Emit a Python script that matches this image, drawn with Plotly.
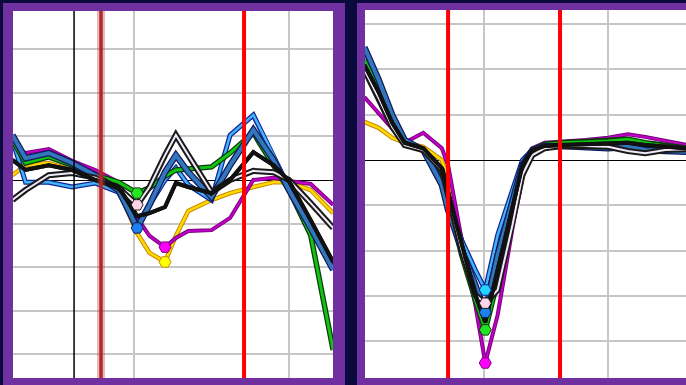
import plotly.graph_objects as go

# ---------------- data: left panel ----------------
x_left = [2.15, 3.0, 4.5, 6.0, 7.5, 9.0, 10.2, 11.0, 12.0, 12.7, 13.5, 15.0, 16.2, 17.7, 19.0, 20.0, 21.4, 22.85]

left_magenta = [0.73, 0.62, 0.71, 0.44, 0.23, -0.05, -0.87, -1.28, -1.54, -1.33, -1.17, -1.15, -0.87, 0.00, 0.05, -0.02, -0.09, -0.57]
left_yellow = [0.11, 0.34, 0.39, 0.23, 0.07, -0.23, -1.22, -1.67, -1.88, -1.28, -0.71, -0.46, -0.30, -0.16, -0.05, -0.05, -0.23, -0.76]
left_sky = [0.92, -0.05, -0.05, -0.16, -0.07, -0.28, -1.03, -0.57, 0.00, 0.28, -0.11, -0.46, 1.03, 1.49, 0.57, -0.18, -1.03, -1.95]
left_green = [0.92, 0.39, 0.53, 0.34, 0.11, -0.05, -0.30, -0.18, 0.09, 0.23, 0.25, 0.30, 0.62, 1.08, 0.34, -0.23, -1.26, -3.90]
left_blue = [1.03, 0.50, 0.62, 0.39, 0.11, -0.23, -1.10, -0.57, 0.18, 0.57, 0.18, -0.39, 0.34, 1.15, 0.46, -0.23, -1.10, -2.06]
left_black = [0.46, 0.23, 0.34, 0.23, 0.00, -0.16, -0.83, -0.76, -0.62, -0.07, -0.16, -0.30, 0.00, 0.64, 0.34, -0.02, -0.92, -1.88]
left_white = [-0.46, -0.23, 0.11, 0.16, 0.05, -0.18, -0.57, -0.16, 0.57, 1.03, 0.57, -0.28, 0.00, 0.21, 0.18, 0.00, -0.53, -1.10]

# ---------------- data: right panel ----------------
x_right = [0.35, 1.5, 2.6, 3.6, 5.1, 6.6, 7.1, 8.2, 9.3, 10.1, 11.1, 12.3, 13.1, 13.9, 14.9, 16.3, 18.2, 20.0, 21.6, 23.0, 24.6, 26.35]

right_magenta = [1.39, 1.04, 0.71, 0.38, 0.60, 0.26, -0.11, -1.77, -3.20, -4.48, -3.42, -1.50, -0.40, 0.26, 0.38, 0.40, 0.44, 0.49, 0.57, 0.51, 0.42, 0.33]
right_yellow = [0.84, 0.71, 0.49, 0.38, 0.29, 0.00, -0.44, -1.77, -2.87, -3.49, -2.43, -0.99, -0.11, 0.22, 0.31, 0.33, 0.35, 0.38, 0.40, 0.35, 0.31, 0.26]
right_sky = [2.32, 1.66, 0.93, 0.40, 0.22, -0.44, -0.99, -1.77, -2.43, -2.87, -1.66, -0.66, 0.00, 0.22, 0.31, 0.31, 0.31, 0.26, 0.26, 0.22, 0.20, 0.18]
right_green = [2.21, 1.59, 0.88, 0.38, 0.22, -0.26, -0.88, -2.10, -3.09, -3.75, -2.65, -1.10, -0.18, 0.22, 0.35, 0.38, 0.40, 0.42, 0.46, 0.38, 0.31, 0.26]
right_blue = [2.49, 1.77, 0.99, 0.44, 0.22, -0.55, -1.10, -1.99, -2.76, -3.36, -2.10, -0.88, -0.11, 0.22, 0.31, 0.31, 0.29, 0.26, 0.29, 0.22, 0.20, 0.18]
right_black = [2.10, 1.50, 0.82, 0.38, 0.26, -0.18, -0.71, -1.88, -2.98, -3.58, -2.43, -0.99, -0.11, 0.22, 0.31, 0.33, 0.35, 0.38, 0.38, 0.33, 0.29, 0.26]
right_white = [1.99, 1.37, 0.73, 0.33, 0.22, -0.22, -0.77, -1.99, -2.98, -3.16, -2.87, -1.43, -0.33, 0.11, 0.26, 0.31, 0.31, 0.29, 0.20, 0.15, 0.22, 0.24]

# reference lines (x positions) and axis windows
left_marks = {"black": 6.13, "darkred": 7.87, "red": 17.10}
right_marks = [7.1, 16.13]
left_xrange, left_yrange = [2.19, 22.84], [-4.541, 3.876]
right_xrange, right_yrange = [0.40, 26.29], [-4.812, 3.311]

# series styles: (core colour, core width, edge colour, edge width, marker colour)
STYLES = {
    "yellow": ("#ffd800", 2.5, "#c88a00", 4.5, "#ffff00"),
    "magenta": ("#c000c8", 2.0, "#7a007a", 4.0, "#ff00ff"),
    "sky": ("#44b4f4", 2.5, "#10249a", 5.0, "#22d4ff"),
    "green": ("#12c412", 3.0, "#0c3a0c", 5.5, "#22e622"),
    "blue": ("#3476bc", 4.0, "#0e1a5a", 6.5, "#1e80f0"),
    "white": ("#f2eaf8", 2.0, "#1a1a1a", 6.0, "#ffd4ea"),
    "black": ("#111111", 4.0, "#111111", 4.0, None),
}

# index of the highlighted minimum on each series
left_series = [
    ("yellow", left_yellow, 8), ("magenta", left_magenta, 8), ("sky", left_sky, None),
    ("green", left_green, 6), ("blue", left_blue, 6), ("white", left_white, 6),
    ("black", left_black, None),
]
right_series = [
    ("yellow", right_yellow, None), ("magenta", right_magenta, 9), ("sky", right_sky, 9),
    ("green", right_green, 9), ("blue", right_blue, 9), ("white", right_white, 9),
    ("black", right_black, None),
]

NAVY = "#0b0a3e"
PURPLE = "#7030a0"
GRID = "#c6c6c6"

fig = go.Figure()


def add_panel(xs, series, xa, ya):
    for name, ys, _ in series:
        core, cw, edge, ew, _m = STYLES[name]
        fig.add_trace(go.Scatter(x=xs, y=ys, mode="lines", xaxis=xa, yaxis=ya,
                                 line=dict(color=edge, width=ew), hoverinfo="skip"))
        fig.add_trace(go.Scatter(x=xs, y=ys, mode="lines", xaxis=xa, yaxis=ya,
                                 line=dict(color=core, width=cw), hoverinfo="skip"))
    for name, ys, idx in series:
        if idx is None:
            continue
        mcol = STYLES[name][4]
        fig.add_trace(go.Scatter(x=[xs[idx]], y=[ys[idx]], mode="markers", xaxis=xa, yaxis=ya,
                                 marker=dict(symbol="hexagon2", size=12, color=mcol,
                                             line=dict(color=STYLES[name][2], width=1)),
                                 hoverinfo="skip"))


add_panel(x_left, left_series, "x", "y")
add_panel(x_right, right_series, "x2", "y2")

W, H = 686, 385


def px_rect(x0, y0, x1, y1, color):
    return dict(type="rect", xref="paper", yref="paper", layer="below",
                x0=x0 / W, x1=x1 / W, y0=1 - y1 / H, y1=1 - y0 / H,
                fillcolor=color, line=dict(width=0))


shapes = [
    px_rect(3, 3, 345, 385, PURPLE),
    px_rect(13, 11, 333, 378, "white"),
    px_rect(357, 3, 686, 385, PURPLE),
    px_rect(365, 10, 686, 378, "white"),
]


def vline(xref, yref, x, color, width):
    return dict(type="line", xref=xref, yref=yref, x0=x, x1=x, y0=0, y1=1,
                layer="above", line=dict(color=color, width=width))


shapes += [
    vline("x", "y domain", left_marks["black"], "#000000", 1.5),
    vline("x", "y domain", left_marks["darkred"], "rgba(190,60,60,0.35)", 8),
    vline("x", "y domain", left_marks["darkred"], "#b02a2a", 3.5),
    vline("x", "y domain", left_marks["red"], "#ff0000", 4),
]
for xv in right_marks:
    shapes.append(vline("x2", "y2 domain", xv, "#ff0000", 4))

axis_common = dict(showgrid=True, gridcolor=GRID, gridwidth=2, showticklabels=False,
                   ticks="", showline=False, fixedrange=True)

fig.update_layout(
    width=W, height=H,
    margin=dict(l=0, r=0, t=0, b=0),
    paper_bgcolor=NAVY, plot_bgcolor="rgba(0,0,0,0)",
    showlegend=False,
    shapes=shapes,
    xaxis=dict(domain=[13 / W, 333 / W], range=left_xrange, dtick=10, tick0=0,
               zeroline=False, anchor="y", **axis_common),
    yaxis=dict(domain=[1 - 378 / H, 1 - 11 / H], range=left_yrange, dtick=1, tick0=0,
               zeroline=True, zerolinecolor="#000000", zerolinewidth=1, anchor="x", **axis_common),
    xaxis2=dict(domain=[365 / W, 1.0], range=right_xrange, dtick=10, tick0=0,
                zeroline=False, anchor="y2", **axis_common),
    yaxis2=dict(domain=[1 - 378 / H, 1 - 10 / H], range=right_yrange, dtick=1, tick0=0,
                zeroline=True, zerolinecolor="#000000", zerolinewidth=1, anchor="x2", **axis_common),
)

fig.write_html("out.html")
